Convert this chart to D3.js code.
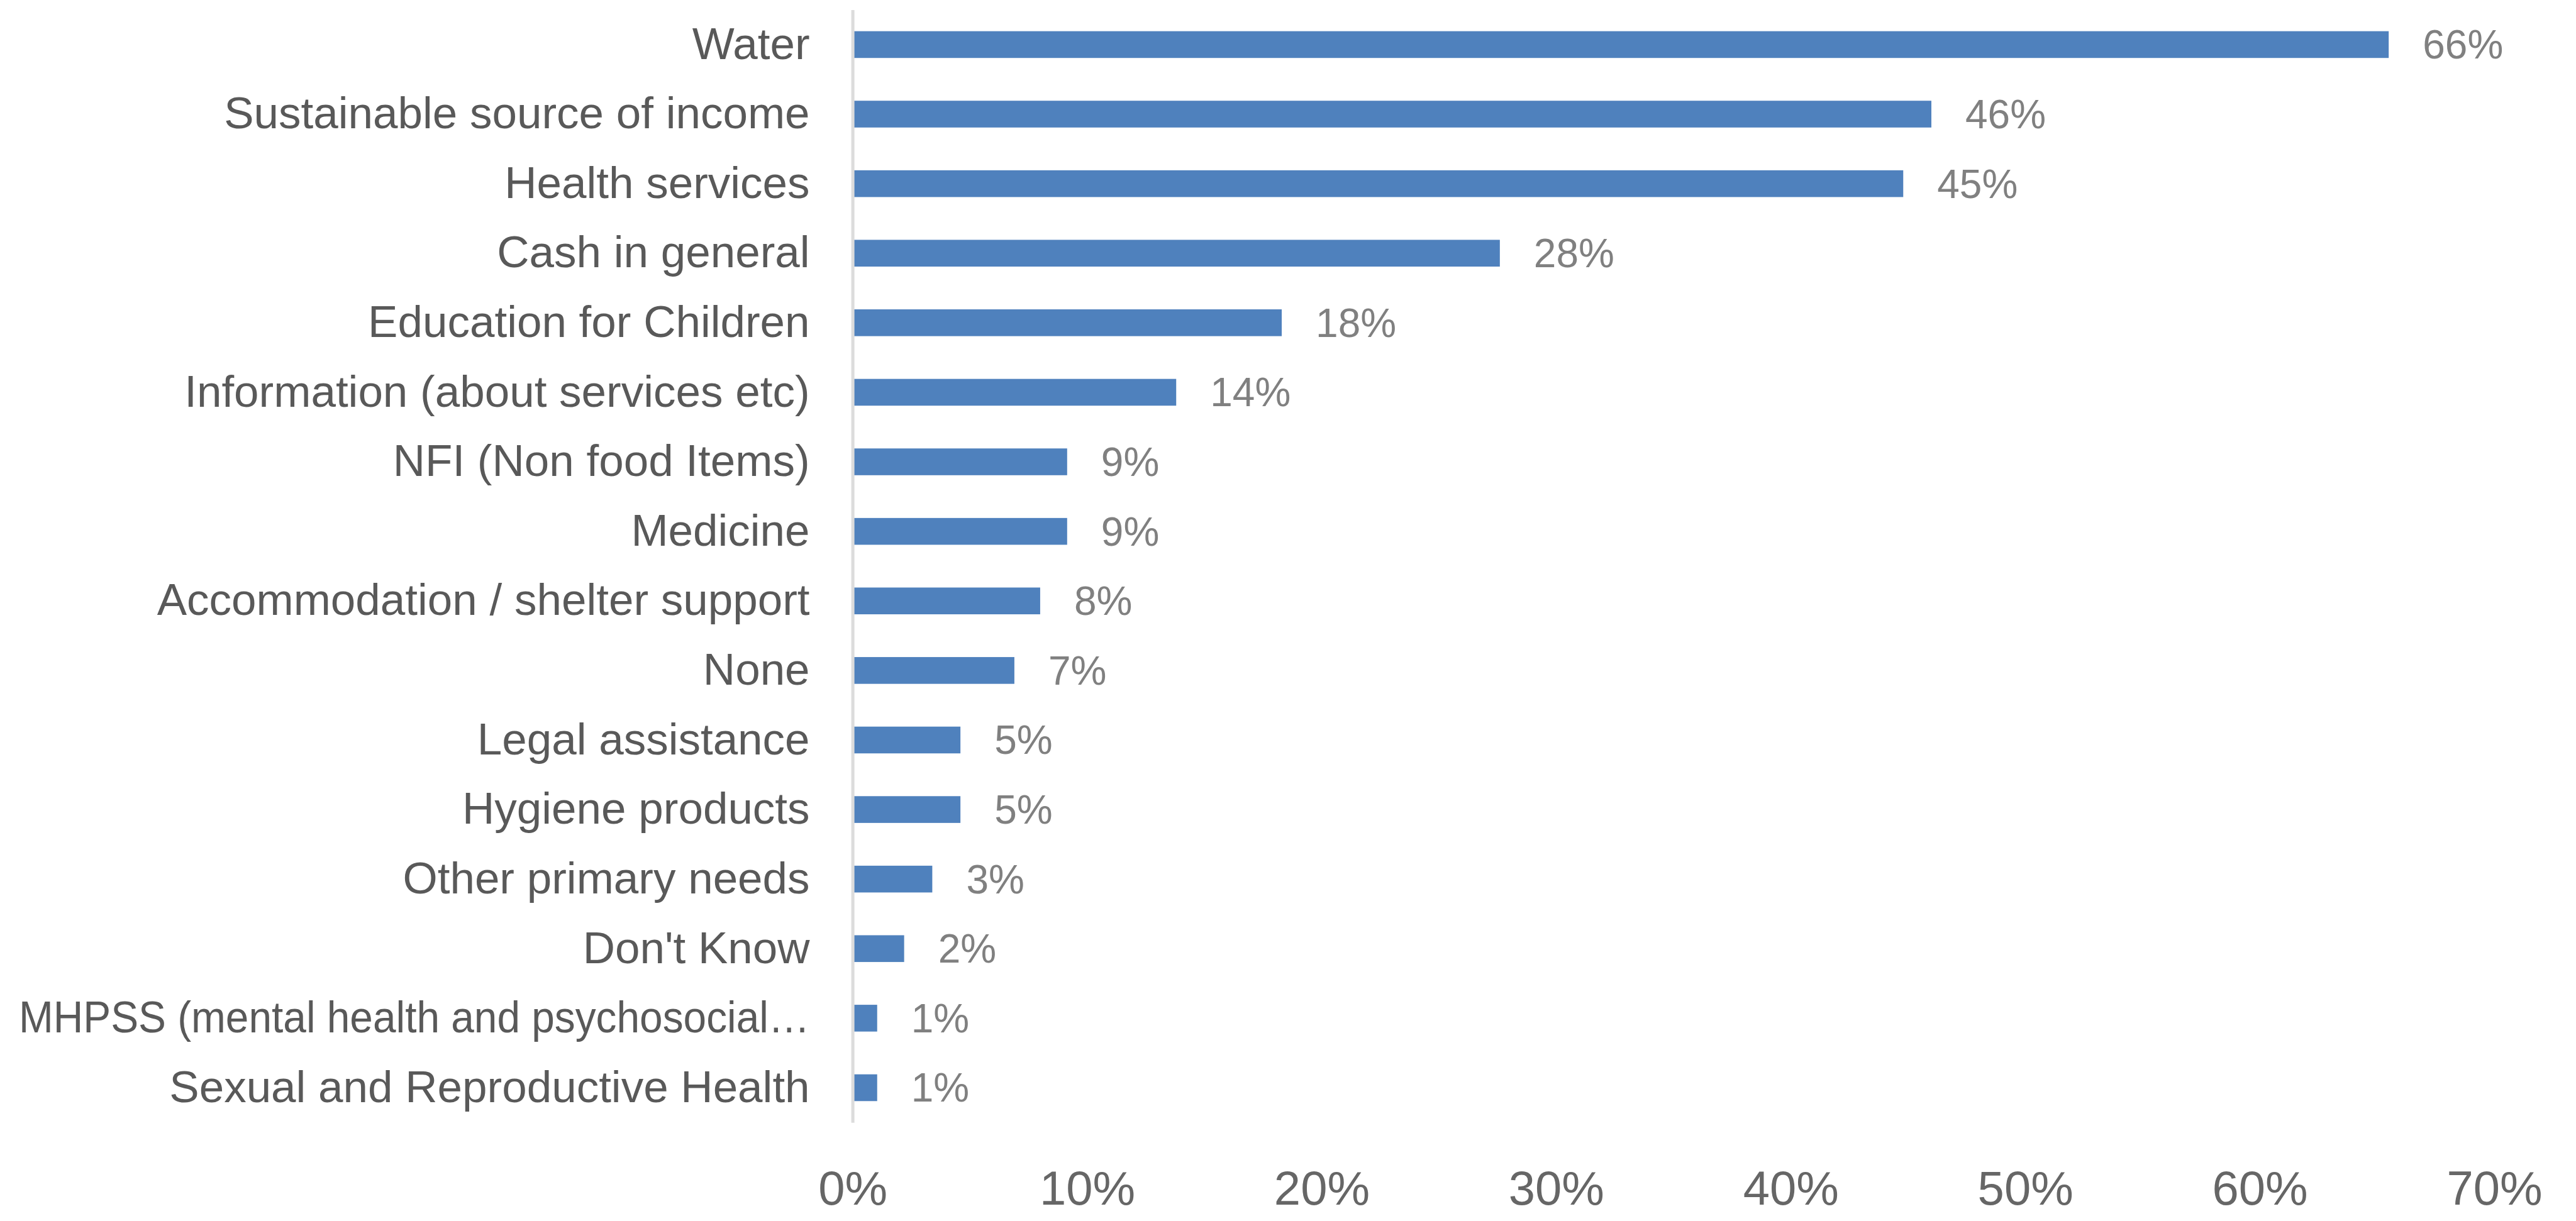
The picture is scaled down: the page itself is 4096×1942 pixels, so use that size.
<!DOCTYPE html>
<html>
<head>
<meta charset="utf-8">
<script src="https://cdn.jsdelivr.net/npm/d3@7"></script>
<style>
  html, body { margin: 0; padding: 0; background: #ffffff; }
  svg { display: block; }
</style>
</head>
<body>
<script>
const categories = [
  "Water",
  "Sustainable source of income",
  "Health services",
  "Cash in general",
  "Education for Children",
  "Information (about services etc)",
  "NFI (Non food Items)",
  "Medicine",
  "Accommodation / shelter support",
  "None",
  "Legal assistance",
  "Hygiene products",
  "Other primary needs",
  "Don't Know",
  "MHPSS (mental health and psychosocial…",
  "Sexual and Reproductive Health"
];
const values = [65.5, 46.0, 44.8, 27.6, 18.3, 13.8, 9.15, 9.15, 8.0, 6.9, 4.6, 4.6, 3.4, 2.2, 1.05, 1.05];
const xTicks = [0, 10, 20, 30, 40, 50, 60, 70];
const xTickLabels = ["0%", "10%", "20%", "30%", "40%", "50%", "60%", "70%"];

const W = 4096, H = 1942;
const FONT = "'Liberation Sans', Arial, sans-serif";

const svg = d3.select("body").append("svg")
  .attr("width", W).attr("height", H)
  .style("background", "#ffffff");

const x = d3.scaleLinear().domain([0, 70]).range([1355.6, 3966]);
const y = d3.scaleBand().domain(categories).range([15.6, 1785.3])
  .paddingInner(0.615).paddingOuter(0.3075);

// bars
svg.append("g").selectAll("rect")
  .data(values)
  .join("rect")
  .attr("x", x(0) + 2)
  .attr("y", (d, i) => y(categories[i]))
  .attr("width", d => x(d) - x(0) - 2)
  .attr("height", y.bandwidth())
  .attr("fill", "#4F81BD");

// y axis (category labels + axis line)
const yAxis = svg.append("g")
  .attr("transform", `translate(${x(0)},0)`)
  .call(d3.axisLeft(y).tickSize(0).tickSizeOuter(0).tickPadding(68));
yAxis.select(".domain").attr("stroke", "#dcdcdc").attr("stroke-width", 5);
yAxis.selectAll("text")
  .attr("font-family", FONT).attr("font-size", 71).attr("fill", "#595959");
const maxW = x(0) - 68 - 30;
yAxis.selectAll("text").each(function () {
  const w = this.getComputedTextLength();
  if (w > maxW) {
    d3.select(this).attr("textLength", maxW).attr("lengthAdjust", "spacingAndGlyphs");
  }
});

// x axis tick labels (no line)
const xAxis = svg.append("g")
  .attr("transform", `translate(0,1862)`)
  .call(d3.axisBottom(x).tickValues(xTicks).tickSize(0).tickPadding(0)
    .tickFormat((d, i) => xTickLabels[i]));
xAxis.select(".domain").remove();
xAxis.selectAll("text")
  .attr("font-family", FONT).attr("font-size", 76).attr("fill", "#666666")
  .attr("dy", "0.71em");

// data labels
svg.append("g").selectAll("text")
  .data(values)
  .join("text")
  .attr("x", d => x(d) + 54)
  .attr("y", (d, i) => y(categories[i]) + y.bandwidth() / 2)
  .attr("dy", "0.35em")
  .attr("font-family", FONT).attr("font-size", 64).attr("fill", "#808080")
  .text(d => Math.round(d) + "%");
</script>
</body>
</html>
